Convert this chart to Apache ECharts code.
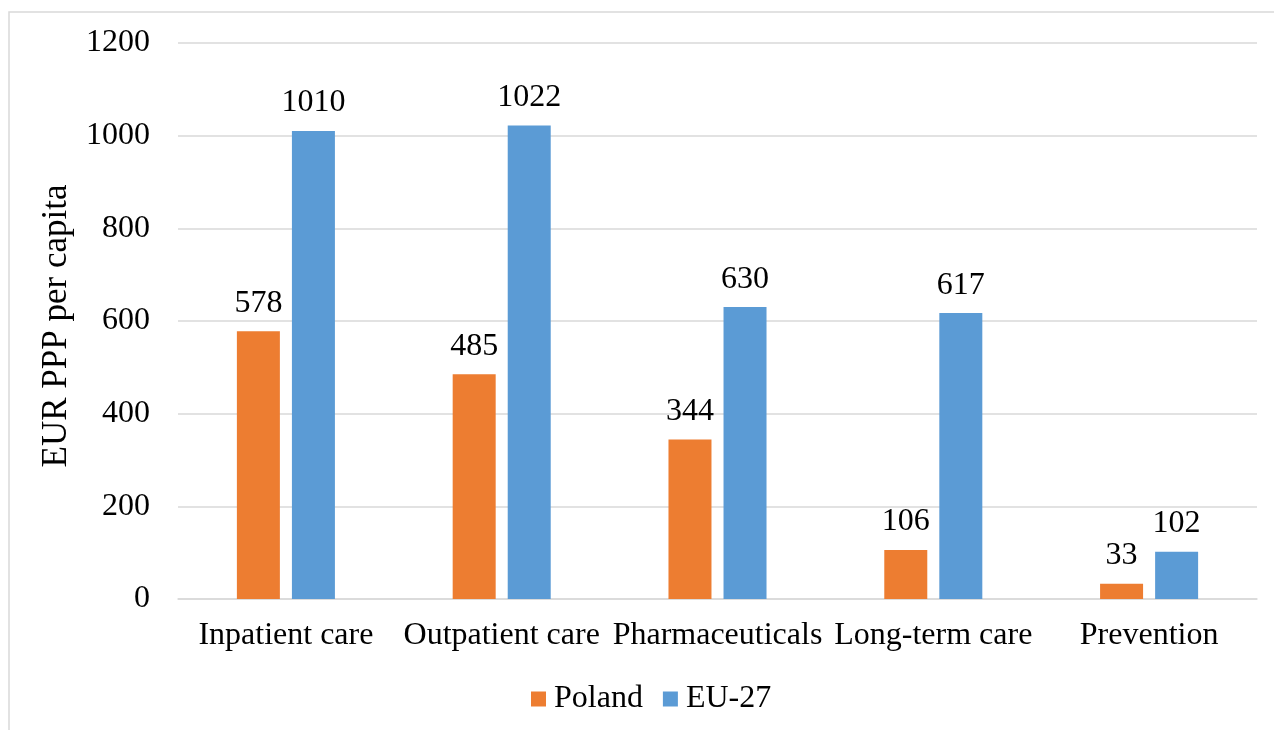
<!DOCTYPE html>
<html>
<head>
<meta charset="utf-8">
<script src="https://cdn.jsdelivr.net/npm/echarts@6/dist/echarts.min.js"></script>
<style>
  html, body { margin: 0; padding: 0; background: #fff; }
  #chart { width: 1274px; height: 730px; }
</style>
</head>
<body>
<div id="chart"></div>
<script>
// Health spending by function, EUR PPP per capita
const categories = ['Inpatient care', 'Outpatient care', 'Pharmaceuticals', 'Long-term care', 'Prevention'];
const poland = [578, 485, 344, 106, 33];
const eu27 = [1010, 1022, 630, 617, 102];
const yTicks = { min: 0, max: 1200, interval: 200 };

const FONT = "'Liberation Serif', 'Times New Roman', serif";
const FONT_SIZE = 32;
const GRID_GRAY = '#d9d9d9';

const chart = echarts.init(document.getElementById('chart'), null, { renderer: 'canvas' });

const labelStyle = {
  show: true,
  position: 'top',
  distance: 12,
  color: '#000',
  fontFamily: FONT,
  fontSize: FONT_SIZE
};

chart.setOption({
  animation: false,
  backgroundColor: '#fff',
  graphic: [{
    type: 'rect',
    shape: { x: 9, y: 12, width: 1400, height: 900 },
    style: { fill: 'none', stroke: GRID_GRAY, lineWidth: 1.5 },
    silent: true,
    z: -1
  }],
  grid: { left: 178, right: 17, top: 43, bottom: 131 },
  legend: {
    left: 526,
    top: 678,
    itemWidth: 15,
    itemHeight: 15,
    itemGap: 20,
    icon: 'rect',
    textStyle: { fontFamily: FONT, fontSize: FONT_SIZE, color: '#000', padding: [0, 0, 0, 3] },
    data: ['Poland', 'EU-27']
  },
  xAxis: {
    type: 'category',
    data: categories,
    axisLine: { show: true, lineStyle: { color: GRID_GRAY, width: 1.5 } },
    axisTick: { show: false },
    axisLabel: { color: '#000', fontFamily: FONT, fontSize: FONT_SIZE, margin: 21, interval: 0 }
  },
  yAxis: {
    type: 'value',
    min: yTicks.min,
    max: yTicks.max,
    interval: yTicks.interval,
    name: 'EUR PPP per capita',
    nameLocation: 'middle',
    nameGap: 104,
    nameTextStyle: { color: '#000', fontFamily: FONT, fontSize: 35, padding: [0, 10, 0, 0] },
    axisLine: { show: false },
    axisTick: { show: false },
    axisLabel: {
      color: '#000', fontFamily: FONT, fontSize: FONT_SIZE, margin: 28,
      formatter: (v) => String(v)
    },
    splitLine: { lineStyle: { color: GRID_GRAY, width: 1.5 } }
  },
  series: [
    {
      name: 'Poland',
      type: 'bar',
      data: poland,
      barWidth: 43,
      barGap: '28%',
      itemStyle: { color: '#ED7D31' },
      label: labelStyle
    },
    {
      name: 'EU-27',
      type: 'bar',
      data: eu27,
      barWidth: 43,
      barGap: '28%',
      itemStyle: { color: '#5B9BD5' },
      label: labelStyle
    }
  ]
});
</script>
</body>
</html>
